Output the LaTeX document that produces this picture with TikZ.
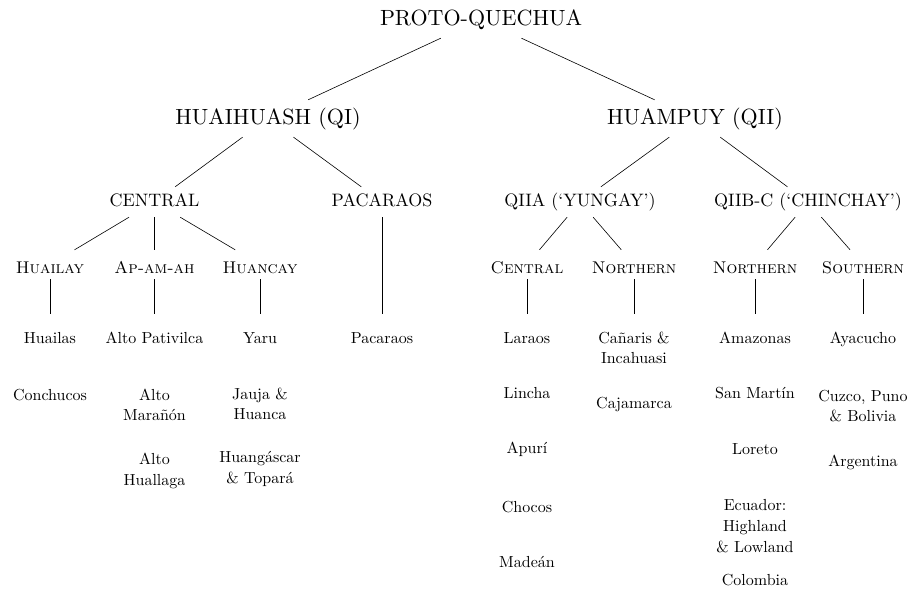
\documentclass[tikz,border=0pt]{standalone}
\usepackage{fontspec}
\setmainfont{lmroman10-regular}[Extension=.otf, SmallCapsFont=lmromancaps10-regular]
\begin{document}
\begin{tikzpicture}[x=1pt,y=-1pt,
  lvlA/.style={font=\fontsize{22}{26}\selectfont, anchor=base, text height=21pt, text depth=8pt, inner ysep=4pt, inner xsep=2pt},
  lvlB/.style={font=\fontsize{18}{22}\selectfont, anchor=base, text height=16pt, text depth=6pt, inner ysep=4pt, inner xsep=2pt},
  lvlC/.style={font=\fontsize{17}{20}\selectfont\scshape, anchor=base, text height=20pt, text depth=3pt, inner ysep=3pt, inner xsep=2pt},
  leaf/.style={font=\fontsize{16}{20.7}\selectfont, align=center, inner sep=0pt},
  edge/.style={line width=0.6pt}]
\useasboundingbox (0,0) rectangle (911,591);

% upper levels
\node[lvlA] (pq) at (481,26) {PROTO-QUECHUA};
\node[lvlA] (hh) at (268,125) {HUAIHUASH (QI)};
\node[lvlA] (hp) at (695,125) {HUAMPUY (QII)};
\node[lvlB] (cen) at (154.5,207) {CENTRAL};
\node[lvlB] (pac) at (382,207) {PACARAOS};
\node[lvlB] (qa) at (580,207) {QIIA (‘YUNGAY’)};
\node[lvlB] (qb) at (808,207) {QIIB-C (‘CHINCHAY’)};

% third level
\node[lvlC] (hly) at (50,273) {Huailay};
\node[lvlC] (apa) at (154.5,273) {Ap-am-ah};
\node[lvlC] (hcy) at (260,273) {Huancay};
\node[lvlC] (cn2) at (527,273) {Central};
\node[lvlC] (no1) at (634,273) {Northern};
\node[lvlC] (no2) at (755,273) {Northern};
\node[lvlC] (sou) at (863,273) {Southern};

% leaf tops
\coordinate (t1) at (50,314);
\coordinate (t2) at (154.5,314);
\coordinate (t3) at (260,314);
\coordinate (t4) at (382,314);
\coordinate (t5) at (527,314);
\coordinate (t6) at (634,314);
\coordinate (t7) at (755,314);
\coordinate (t8) at (863,314);

% edges
\draw[edge] (pq) -- (hh);
\draw[edge] (pq) -- (hp);
\draw[edge] (hh) -- (cen);
\draw[edge] (hh) -- (pac);
\draw[edge] (hp) -- (qa);
\draw[edge] (hp) -- (qb);
\draw[edge] (cen) -- (hly);
\draw[edge] (cen) -- (apa);
\draw[edge] (cen) -- (hcy);
\draw[edge] (qa) -- (cn2);
\draw[edge] (qa) -- (no1);
\draw[edge] (qb) -- (no2);
\draw[edge] (qb) -- (sou);
\draw[edge] (hly) -- (t1);
\draw[edge] (apa) -- (t2);
\draw[edge] (hcy) -- (t3);
\draw[edge] (pac) -- (t4);
\draw[edge] (cn2) -- (t5);
\draw[edge] (no1) -- (t6);
\draw[edge] (no2) -- (t7);
\draw[edge] (sou) -- (t8);

% leaves
\node[leaf] (l11) at (50,338) {Huailas};
\node[leaf] (l12) at (50,395) {Conchucos};
\node[leaf] (l21) at (154.5,338) {Alto Pativilca};
\node[leaf] (l22) at (154.5,405) {Alto\\Marañón};
\node[leaf] (l23) at (154.5,471) {Alto\\Huallaga};
\node[leaf] (l31) at (260,338) {Yaru};
\node[leaf] (l32) at (260,404) {Jauja \&\\Huanca};
\node[leaf] (l33) at (260,469) {Huangáscar\\\& Topará};
\node[leaf] (l41) at (382,338) {Pacaraos};
\node[leaf] (l51) at (527,338) {Laraos};
\node[leaf] (l52) at (527,393) {Lincha};
\node[leaf] (l53) at (527,449) {Apurí};
\node[leaf] (l54) at (527,507) {Chocos};
\node[leaf] (l55) at (527,562) {Madeán};
\node[leaf] (l61) at (634,348) {Cañaris \&\\Incahuasi};
\node[leaf] (l62) at (634,404) {Cajamarca};
\node[leaf] (l71) at (755,338) {Amazonas};
\node[leaf] (l72) at (755,393) {San Martín};
\node[leaf] (l73) at (755,449) {Loreto};
\node[leaf] (l74) at (755,526) {Ecuador:\\Highland\\\& Lowland};
\node[leaf] (l75) at (755,580) {Colombia};
\node[leaf] (l81) at (863,339) {Ayacucho};
\node[leaf] (l82) at (863,406) {Cuzco, Puno\\\& Bolivia};
\node[leaf] (l83) at (863,462) {Argentina};
\end{tikzpicture}
\end{document}
